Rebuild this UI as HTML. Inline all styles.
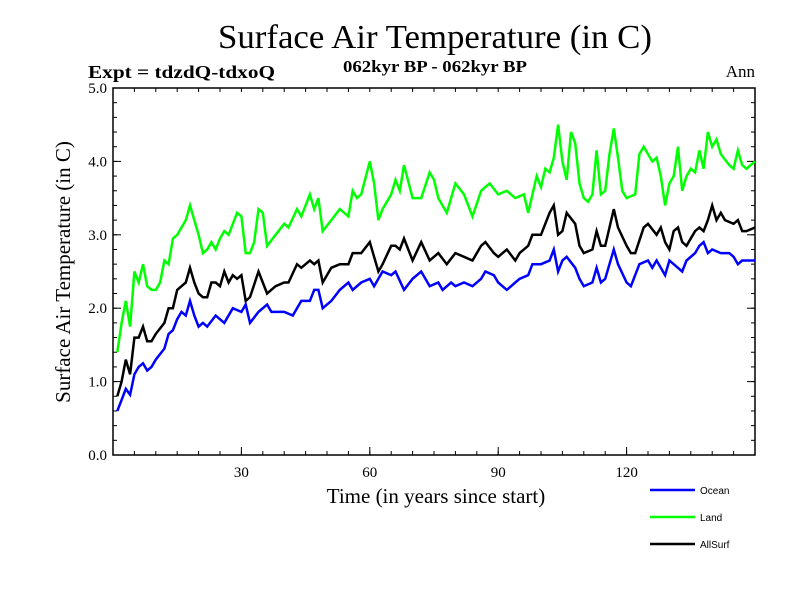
<!DOCTYPE html>
<html><head><meta charset="utf-8"><style>
body{margin:0;background:#fff}
svg text{font-family:"Liberation Serif",serif}
</style></head><body>
<svg id="c" width="800" height="600" xmlns="http://www.w3.org/2000/svg">
<text x="218" y="48" font-size="34" textLength="434" lengthAdjust="spacingAndGlyphs">Surface Air Temperature (in C)</text>
<text x="88" y="78" font-size="18" font-weight="bold" textLength="187" lengthAdjust="spacingAndGlyphs">Expt = tdzdQ-tdxoQ</text>
<text x="343" y="72" font-size="17" font-weight="bold" textLength="184" lengthAdjust="spacingAndGlyphs">062kyr BP - 062kyr BP</text>
<text x="755" y="77" font-size="17" text-anchor="end">Ann</text>
<text x="436" y="503" font-size="21" text-anchor="middle">Time (in years since start)</text>
<text transform="translate(70,272) rotate(-90)" font-size="21" text-anchor="middle">Surface Air Temperature (in C)</text>
<rect x="113" y="88" width="642" height="367" fill="none" stroke="#000" stroke-width="1.5"/>
<g id="ax"></g><g id="lines"></g><g id="legend"></g>
</svg>
<script>
const xTicks=[30,60,90,120];
const yTicks=[0,1,2,3,4,5];
const yTickLabels=["0.0","1.0","2.0","3.0","4.0","5.0"];
const seriesNames=["Ocean","Land","AllSurf"];
const oceanYears=[1,2,3,4,5,6,7,8,9,10,12,13,14,15,16,17,18,19,20,21,22,24,26,28,30,31,32,34,36,37,40,42,44,46,47,48,49,51,53,55,56,58,60,61,63,65,66,68,70,72,74,76,77,79,80,82,84,86,87,89,90,92,94,95,97,98,100,102,103,104,105,106,108,109,110,112,113,114,115,117,118,120,121,123,125,126,127,129,130,131,133,134,136,137,138,139,140,142,144,145,146,147,150];
const oceanValues=[0.6,0.75,0.9,0.82,1.1,1.2,1.25,1.15,1.2,1.3,1.45,1.65,1.7,1.85,1.95,1.9,2.1,1.9,1.75,1.8,1.75,1.9,1.8,2.0,1.95,2.05,1.8,1.95,2.05,1.95,1.95,1.9,2.1,2.1,2.25,2.25,2.0,2.1,2.25,2.35,2.25,2.35,2.4,2.3,2.5,2.45,2.5,2.25,2.4,2.5,2.3,2.35,2.25,2.35,2.3,2.35,2.3,2.4,2.5,2.45,2.35,2.25,2.35,2.4,2.45,2.6,2.6,2.65,2.8,2.5,2.65,2.7,2.55,2.4,2.3,2.35,2.55,2.35,2.4,2.8,2.6,2.35,2.3,2.6,2.65,2.55,2.65,2.45,2.65,2.6,2.5,2.65,2.75,2.85,2.9,2.75,2.8,2.75,2.75,2.7,2.6,2.65,2.65];
const landYears=[1,2,3,4,5,6,7,8,9,10,11,12,13,14,15,16,17,18,19,20,21,22,23,24,25,26,27,29,30,31,32,33,34,35,36,38,40,41,43,44,46,47,48,49,51,53,55,56,57,58,60,61,62,63,65,66,67,68,70,72,74,75,76,78,79,80,82,84,86,88,90,92,94,96,97,99,100,101,102,103,104,105,106,107,108,109,110,111,112,113,114,115,116,117,118,119,120,122,123,124,125,126,127,128,129,130,131,132,133,134,135,136,137,138,139,140,141,142,144,145,146,147,148,150];
const landValues=[1.4,1.8,2.1,1.75,2.5,2.35,2.6,2.3,2.25,2.25,2.35,2.65,2.6,2.95,3.0,3.1,3.2,3.4,3.2,3.0,2.75,2.8,2.9,2.8,2.95,3.05,3.0,3.3,3.25,2.75,2.75,2.9,3.35,3.3,2.85,3.0,3.15,3.1,3.35,3.25,3.55,3.35,3.5,3.05,3.2,3.35,3.25,3.6,3.5,3.55,4.0,3.7,3.2,3.35,3.55,3.75,3.6,3.95,3.5,3.5,3.85,3.75,3.5,3.3,3.5,3.7,3.55,3.25,3.6,3.7,3.55,3.6,3.5,3.55,3.3,3.8,3.65,3.9,3.85,4.05,4.5,4.0,3.75,4.4,4.25,3.7,3.5,3.45,3.55,4.15,3.55,3.6,4.1,4.45,4.05,3.6,3.5,3.55,4.1,4.2,4.1,4.0,4.05,3.8,3.4,3.7,3.8,4.2,3.6,3.8,3.9,3.85,4.15,3.9,4.4,4.2,4.3,4.1,3.95,3.9,4.15,3.95,3.9,4.0];
const allYears=[1,2,3,4,5,6,7,8,9,10,12,13,14,15,16,17,18,19,20,21,22,23,24,25,26,27,28,29,30,31,32,34,35,36,38,40,41,43,44,46,47,48,49,51,53,55,56,58,60,62,63,65,66,67,68,70,72,74,76,78,80,82,84,86,87,89,90,92,94,95,97,98,100,102,103,104,105,106,108,109,110,112,113,114,115,117,118,120,121,122,124,125,127,128,129,130,131,132,133,134,136,137,138,139,140,141,142,143,145,146,147,148,150];
const allValues=[0.8,1.0,1.3,1.1,1.6,1.6,1.75,1.55,1.55,1.65,1.8,2.0,2.0,2.25,2.3,2.35,2.55,2.35,2.2,2.15,2.15,2.35,2.35,2.3,2.5,2.35,2.45,2.4,2.45,2.1,2.15,2.5,2.35,2.2,2.3,2.35,2.35,2.6,2.55,2.65,2.6,2.65,2.35,2.55,2.6,2.6,2.75,2.75,2.9,2.5,2.6,2.85,2.85,2.8,2.95,2.65,2.9,2.65,2.75,2.6,2.75,2.7,2.65,2.85,2.9,2.75,2.7,2.8,2.65,2.75,2.85,3.0,3.0,3.3,3.4,3.0,3.05,3.3,3.15,2.85,2.75,2.8,3.05,2.85,2.85,3.35,3.1,2.85,2.75,2.75,3.1,3.15,3.0,3.1,2.9,2.8,3.05,3.1,2.9,2.85,3.05,3.1,3.05,3.2,3.4,3.2,3.3,3.2,3.15,3.2,3.05,3.05,3.1];
const X0=113,X1=755,Y0=455,Y1=88,xmin=0,xmax=150,ymin=0,ymax=5;
const sx=v=>X0+(v-xmin)/(xmax-xmin)*(X1-X0);
const sy=v=>Y0-(v-ymin)/(ymax-ymin)*(Y0-Y1);
const NS="http://www.w3.org/2000/svg";
function mk(t,a,p){const e=document.createElementNS(NS,t);for(const k in a)e.setAttribute(k,a[k]);p.appendChild(e);return e;}
const ax=document.getElementById('ax');
for(let i=0;i<xTicks.length;i++){const x=sx(xTicks[i]);
 let l=mk('line',{x1:x,x2:x,y1:Y0,y2:Y0-8,stroke:'#000'},ax);
 
 
 let t=mk('text',{x:x,y:Y0+22,'font-size':15,'text-anchor':'middle'},ax);t.textContent=xTicks[i];
 
 }
for(let v=5;v<150;v+=5){const x=sx(v);mk('line',{x1:x,x2:x,y1:Y0,y2:Y0-4,stroke:'#000'},ax);mk('line',{x1:x,x2:x,y1:Y1,y2:Y1+4,stroke:'#000'},ax);}
for(let i=0;i<yTicks.length;i++){const y=sy(yTicks[i]);
 let l=mk('line',{x1:X0,x2:X0+8,y1:y,y2:y,stroke:'#000'},ax);
 
 
 mk('line',{x1:X1,x2:X1-8,y1:y,y2:y,stroke:'#000'},ax);
 let t=mk('text',{x:X0-6,y:y+5,'font-size':15,'text-anchor':'end'},ax);t.textContent=yTickLabels[i];
 
 }
for(let v=0.2;v<5;v+=0.2){const y=sy(v);mk('line',{x1:X0,x2:X0+4,y1:y,y2:y,stroke:'#000'},ax);mk('line',{x1:X1,x2:X1-4,y1:y,y2:y,stroke:'#000'},ax);}
const lg=document.getElementById('lines');
const sets=[[oceanYears,oceanValues,'#0000ff','ocean-line'],[landYears,landValues,'#00ff00','land-line'],[allYears,allValues,'#000000','allsurf-line']];
sets.forEach(s=>{const d=s[0].map((x,i)=>(i?'L':'M')+sx(x).toFixed(1)+' '+sy(s[1][i]).toFixed(1)).join(' ');
 const p=mk('path',{d:d,fill:'none',stroke:s[2],'stroke-width':2.5},lg);
 
 });
const leg=document.getElementById('legend');
const lc=['#0000ff','#00ff00','#000000'];
seriesNames.forEach((n,i)=>{const y=490+i*27;
 const l=mk('line',{x1:650,x2:695,y1:y,y2:y,stroke:lc[i],'stroke-width':2.5},leg);
 
 
 const t=mk('text',{x:700,y:y+4,'font-size':10},leg);t.textContent=n;
 t.style.fontFamily='"Liberation Sans",sans-serif';
 
 });
</script>
</body></html>
